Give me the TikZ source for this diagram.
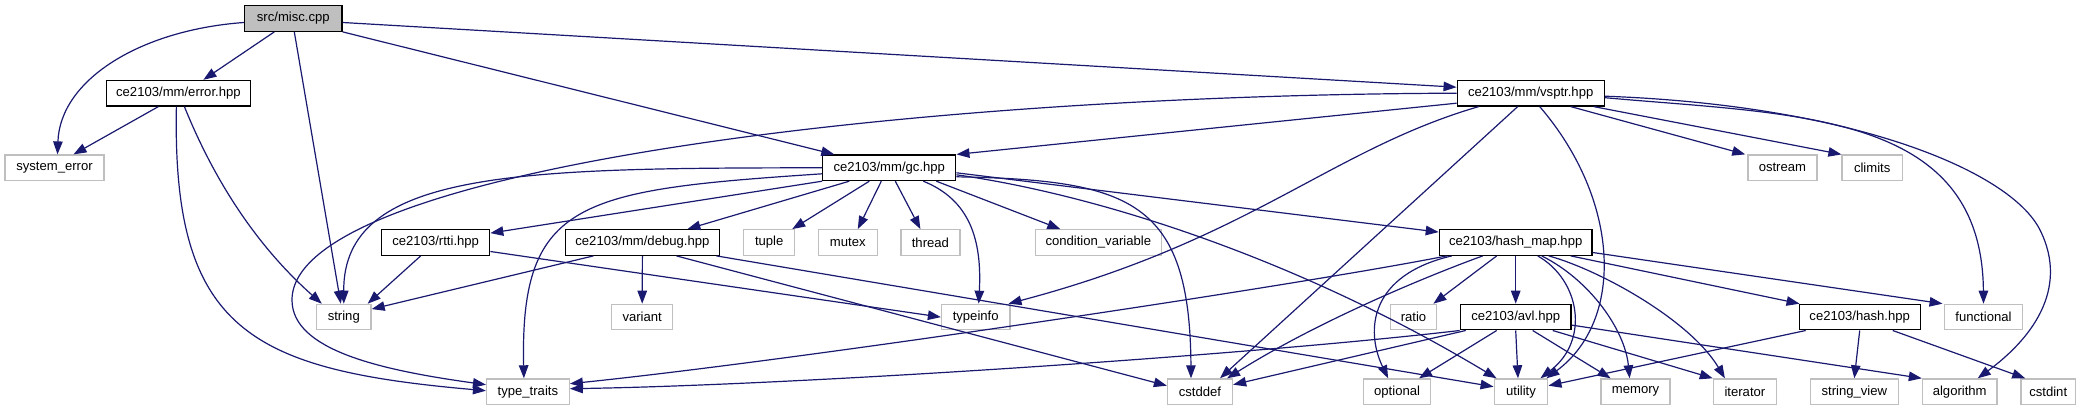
\documentclass[tikz,border=0pt]{standalone}
\usepackage{fontspec}
\setmainfont{Liberation Sans}
\usetikzlibrary{arrows.meta}
\definecolor{edgeblue}{HTML}{191970}
\definecolor{rootgray}{HTML}{BFBFBF}
\definecolor{sysgray}{HTML}{BFBFBF}
\newcommand{\nodefont}{\fontsize{13.1}{15}\selectfont}
\tikzset{
  base/.style={rectangle, minimum height=25.5pt, inner sep=0pt, font=\nodefont, line width=1.3pt},
  doc/.style={base, draw=black, fill=white},
  root/.style={base, draw=black, fill=rootgray},
  sys/.style={base, draw=sysgray, fill=white},
  edge/.style={draw=edgeblue, line width=1.2pt, -{Triangle[length=13pt,width=9.5pt]}},
}
\begin{document}
\begin{tikzpicture}[x=1pt,y=-1pt]
\useasboundingbox (0,0) rectangle (2088,411);
% row 0
\node[root, minimum width=97.4pt] (misc) at (293.3,18.5) {src/misc.cpp};
% row 1
\node[doc, minimum width=144pt] (error) at (178.4,93.2) {ce2103/mm/error.hpp};
\node[doc, minimum width=147pt] (vsptr) at (1530.7,93.2) {ce2103/mm/vsptr.hpp};
% row 2
\node[sys, minimum width=99pt] (sysErr) at (54.5,167.8) {system\_error};
\node[doc, minimum width=133pt] (gc) at (889.3,167.8) {ce2103/mm/gc.hpp};
\node[sys, minimum width=69pt] (ostream) at (1782.4,167.8) {ostream};
\node[sys, minimum width=60.3pt] (climits) at (1872.2,167.8) {climits};
% row 3
\node[doc, minimum width=108pt] (rtti) at (435.7,242.5) {ce2103/rtti.hpp};
\node[doc, minimum width=154.4pt] (debug) at (642.4,242.5) {ce2103/mm/debug.hpp};
\node[sys, minimum width=50.8pt] (tuple) at (769.2,242.5) {tuple};
\node[sys, minimum width=59pt] (mutex) at (847.8,242.5) {mutex};
\node[sys, minimum width=59pt] (thread) at (930.4,242.5) {thread};
\node[sys, minimum width=126pt] (cv) at (1098.3,242.5) {condition\_variable};
\node[doc, minimum width=152.7pt] (hashmap) at (1515.7,242.5) {ce2103/hash\_map.hpp};
% row 4
\node[sys, minimum width=54.5pt] (string) at (343.8,317.1) {string};
\node[sys, minimum width=61pt] (variant) at (642.2,317.1) {variant};
\node[sys, minimum width=68.3pt] (typeinfo) at (975.7,317.1) {typeinfo};
\node[sys, minimum width=46.5pt] (ratio) at (1413.5,317.1) {ratio};
\node[doc, minimum width=110.7pt] (avl) at (1515.7,317.1) {ce2103/avl.hpp};
\node[doc, minimum width=121pt] (hash) at (1859.7,317.1) {ce2103/hash.hpp};
\node[sys, minimum width=78.6pt] (functional) at (1983.5,317.1) {functional};
% row 5
\node[sys, minimum width=82.6pt] (types) at (527.9,391.7) {type\_traits};
\node[sys, minimum width=65pt] (cstddef) at (1200,391.7) {cstddef};
\node[sys, minimum width=66.6pt] (optional) at (1397.1,391.7) {optional};
\node[sys, minimum width=53.6pt] (utility) at (1521,391.7) {utility};
\node[sys, minimum width=69pt] (memory) at (1635.6,391.7) {memory};
\node[sys, minimum width=63pt] (iterator) at (1744.9,391.7) {iterator};
\node[sys, minimum width=88pt] (stringview) at (1854.3,391.7) {string\_view};
\node[sys, minimum width=74.5pt] (algorithm) at (1959.7,391.7) {algorithm};
\node[sys, minimum width=54.5pt] (cstdint) at (2048.2,391.7) {cstdint};

% misc
\draw[edge] ([yshift=-4pt]misc.west) .. controls (140,30) and (60,80) .. ([xshift=3pt]sysErr.north);
\draw[edge] ([xshift=-19pt]misc.south) -- ([xshift=25pt]error.north);
\draw[edge] ([xshift=1pt]misc.south) -- ([xshift=-3pt]string.north);
\draw[edge] (misc.south east) -- ([xshift=-55pt]gc.north);
\draw[edge] ([yshift=-4pt]misc.east) -- ([yshift=6pt]vsptr.west);
% error
\draw[edge] ([xshift=-20pt]error.south) -- ([xshift=19pt]sysErr.north);
\draw[edge] ([xshift=-2pt]error.south) .. controls (172,330) and (250,370) .. ([yshift=1pt]types.west);
\draw[edge] ([xshift=6pt]error.south) .. controls (210,170) and (250,240) .. ([xshift=-22pt]string.north);
% vsptr
\draw[edge] ([yshift=-10pt]vsptr.west) -- (gc.north east);
\draw[edge] (vsptr.west) .. controls (900,95) and (292,170) .. (292,300) .. controls (292,350) and (380,370) .. ([yshift=7pt]types.west);
\draw[edge] ([xshift=-52pt]vsptr.south) .. controls (1330,150) and (1250,240) .. ([xshift=-2pt]typeinfo.north east);
\draw[edge] ([xshift=-13pt]vsptr.south) -- ([xshift=20pt]cstddef.north);
\draw[edge] ([xshift=9pt]vsptr.south) .. controls (1620,200) and (1625,320) .. ([xshift=-2pt]utility.north east);
\draw[edge] ([xshift=40pt]vsptr.south) -- ([xshift=-2pt]ostream.north west);
\draw[edge] ([xshift=63pt]vsptr.south) -- (climits.north west);
\draw[edge] ([yshift=-4.5pt]vsptr.east) .. controls (1796,115) and (1982,111) .. (functional.north);
\draw[edge] ([yshift=-3pt]vsptr.east) .. controls (1850,105) and (2010,170) .. (2040,230) .. controls (2070,290) and (2030,340) .. ([xshift=18pt]algorithm.north);
% gc
\draw[edge] (gc.west) .. controls (520,168) and (343,170) .. (string.north);
\draw[edge] ([yshift=-6pt]gc.west) .. controls (580,190) and (520,200) .. ([xshift=-4pt]types.north);
\draw[edge] (gc.south west) -- ([yshift=-4pt]rtti.north east);
\draw[edge] ([xshift=-40pt]gc.south) -- ([xshift=45pt]debug.north);
\draw[edge] ([xshift=-20pt]gc.south) -- ([xshift=-3pt]tuple.north east);
\draw[edge] ([xshift=-8pt]gc.south) -- ([xshift=10pt]mutex.north);
\draw[edge] ([xshift=6pt]gc.south) -- ([xshift=-10pt]thread.north);
\draw[edge] ([xshift=34pt]gc.south) .. controls (970,200) and (982,240) .. ([xshift=3pt]typeinfo.north);
\draw[edge] ([xshift=47pt]gc.south) -- ([xshift=-38pt]cv.north);
\draw[edge] ([yshift=-5pt]gc.east) -- ([yshift=-3pt]hashmap.north west);
\draw[edge] ([yshift=-7pt]gc.east) .. controls (1100,195) and (1300,260) .. ([xshift=3pt]utility.north west);
\draw[edge] ([yshift=-9pt]gc.east) .. controls (1130,180) and (1190,200) .. ([xshift=-9pt]cstddef.north);
% rtti
\draw[edge] ([xshift=-15pt]rtti.south) -- ([xshift=-4pt]string.north east);
\draw[edge] ([yshift=-9pt]rtti.east) -- (typeinfo.west);
% debug
\draw[edge] ([xshift=-49pt]debug.south) -- ([yshift=8pt]string.east);
\draw[edge] (debug.south) -- (variant.north);
\draw[edge] ([xshift=34pt]debug.south) -- ([yshift=6pt]cstddef.west);
\draw[edge] ([xshift=74pt]debug.south) -- ([yshift=5pt]utility.west);
% hash_map
\draw[edge] ([xshift=-69pt]hashmap.south) .. controls (1300,285) and (800,360) .. ([yshift=8pt]types.east);
\draw[edge] ([xshift=-33pt]hashmap.south) .. controls (1430,275) and (1320,320) .. ([xshift=-6pt]cstddef.north east);
\draw[edge] ([xshift=-64pt]hashmap.south) .. controls (1370,275) and (1365,330) .. ([xshift=-9pt]optional.north);
\draw[edge] ([xshift=-19pt]hashmap.south) -- ([xshift=-4pt]ratio.north east);
\draw[edge] (hashmap.south) -- (avl.north);
\draw[edge] ([xshift=22pt]hashmap.south) .. controls (1580,280) and (1590,340) .. ([xshift=-8pt]utility.north east);
\draw[edge] ([xshift=26pt]hashmap.south) .. controls (1590,280) and (1625,330) .. ([xshift=-6pt]memory.north);
\draw[edge] ([xshift=33pt]hashmap.south) .. controls (1600,270) and (1690,320) .. ([xshift=-20pt]iterator.north);
\draw[edge] ([xshift=55pt]hashmap.south) -- ([xshift=1pt]hash.north west);
\draw[edge] ([yshift=-10pt]hashmap.east) -- ([xshift=-1pt]functional.north west);
% avl
\draw[edge] (avl.south west) .. controls (1250,355) and (800,385) .. ([yshift=3pt]types.east);
\draw[edge] ([xshift=6pt]avl.south west) -- ([yshift=7pt]cstddef.east);
\draw[edge] ([xshift=-19pt]avl.south) -- ([xshift=-12pt]optional.north east);
\draw[edge] (avl.south) -- ([xshift=-3pt]utility.north);
\draw[edge] ([xshift=17pt]avl.south) -- ([xshift=-25pt]memory.north);
\draw[edge] ([xshift=37pt]avl.south) -- (iterator.north west);
\draw[edge] ([yshift=-8pt]avl.east) -- (algorithm.north west);
% hash
\draw[edge] ([xshift=-54pt]hash.south) -- ([yshift=6pt]utility.east);
\draw[edge] (hash.south) -- (stringview.north);
\draw[edge] ([xshift=33pt]hash.south) -- ([xshift=-23pt]cstdint.north);
\end{tikzpicture}
\end{document}
